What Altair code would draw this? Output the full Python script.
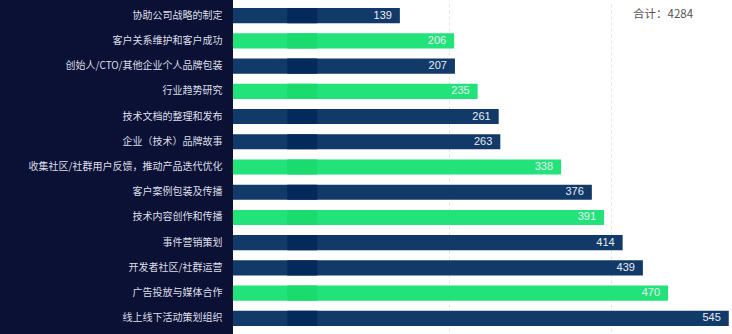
import altair as alt
import pandas as pd

categories = [
    "协助公司战略的制定",
    "客户关系维护和客户成功",
    "创始人/CTO/其他企业个人品牌包装",
    "行业趋势研究",
    "技术文档的整理和发布",
    "企业（技术）品牌故事",
    "收集社区/社群用户反馈，推动产品迭代优化",
    "客户案例包装及传播",
    "技术内容创作和传播",
    "事件营销策划",
    "开发者社区/社群运营",
    "广告投放与媒体合作",
    "线上线下活动策划组织",
]
values = [139, 206, 207, 235, 261, 263, 338, 376, 391, 414, 439, 470, 545]
groups = ["a", "b", "a", "b", "a", "a", "b", "a", "b", "a", "a", "b", "a"]
total = sum(values)

df = pd.DataFrame({"cat": categories, "val": values, "grp": groups})

XMIN, XMAX = -67, 549
W, H = 499, 328
PL, PT = 233, 3

xs = alt.Scale(domain=[XMIN, XMAX], nice=False, zero=False)
ys = alt.Y("cat:N", sort=categories, scale=alt.Scale(paddingInner=0.4, paddingOuter=0.2),
           axis=alt.Axis(title=None, ticks=False, domain=False, labelPadding=11,
                         labelFont="Noto Sans CJK SC", labelFontSize=10, zindex=1,
                         labelColor="#dcdfe8", labelLimit=225))

panel = alt.Chart(pd.DataFrame({"k": [0]})).mark_rect(color="#0b1135", clip=False).encode(
    x=alt.value(-PL), x2=alt.value(0), y=alt.value(-PT), y2=alt.value(H + 10)
)

grid = alt.Chart(df).mark_bar(opacity=0).encode(
    x=alt.X("val:Q", scale=xs,
            axis=alt.Axis(values=[200, 400], grid=True, gridDash=[3, 3], gridColor="#e4e4e4",
                          labels=False, ticks=False, domain=False, title=None, zindex=0)),
    y=ys,
)

bars = alt.Chart(df).mark_bar().encode(
    x=alt.X("val:Q", scale=xs),
    x2=alt.datum(XMIN),
    y=ys,
    color=alt.Color("grp:N", scale=alt.Scale(domain=["a", "b"], range=["#123a68", "#22e27a"]), legend=None),
)

band = alt.Chart(df).mark_bar().encode(
    x=alt.datum(0, scale=xs),
    x2=alt.datum(37),
    y=ys,
    color=alt.Color("grp:N", scale=alt.Scale(domain=["a", "b"], range=["#032a5b", "#19db6e"]), legend=None),
)

labels = alt.Chart(df).mark_text(align="right", dx=-8, fontSize=11, color="#e8ecf4",
                                 font="Liberation Sans").encode(
    x=alt.X("val:Q", scale=xs),
    y=ys,
    text="val:Q",
)

total_text = alt.Chart(pd.DataFrame({"t": [f"合计：{total}"]})).mark_text(
    align="left", baseline="middle", fontSize=11.5, color="#555555", font="Noto Sans CJK SC"
).encode(x=alt.value(400), y=alt.value(12), text="t:N")

chart = alt.layer(panel, grid, bars, band, labels, total_text).resolve_scale(color="independent").properties(
    width=W, height=H,
    autosize=alt.AutoSizeParams(type="none"),
    padding={"left": PL, "top": PT, "right": 0, "bottom": 3},
    background="white",
).configure_view(stroke=None)

chart.save("out.html", embed_options={"renderer": "svg", "actions": False})
